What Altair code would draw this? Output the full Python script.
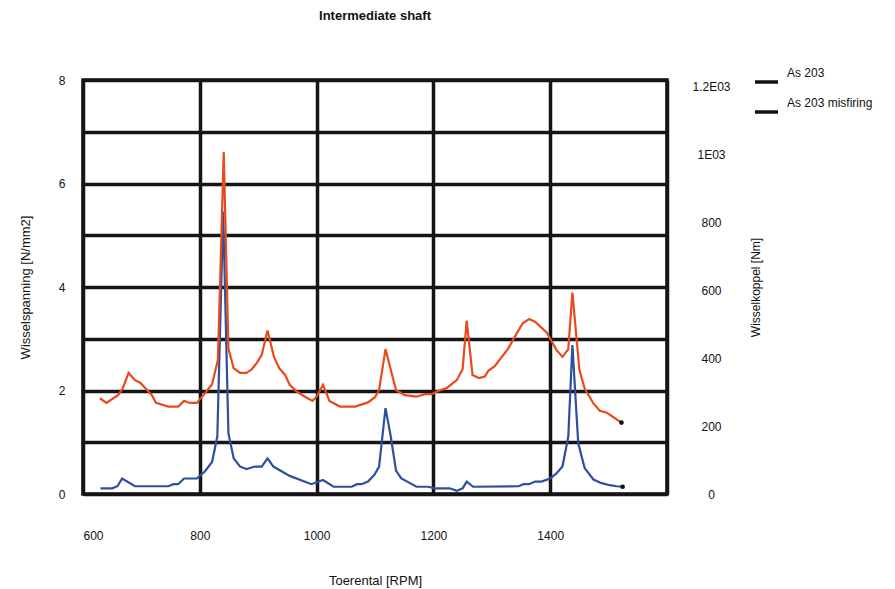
import altair as alt
import pandas as pd

# ---- data ----
orange_rpm = [629, 640, 660, 668, 678, 689, 698, 718, 725, 746, 763, 773, 783, 795, 809, 821, 831, 841,
              849, 858, 869, 880, 889, 898, 906, 916, 927, 936, 946, 954, 966, 980, 993, 1000, 1011,
              1022, 1040, 1066, 1088, 1100, 1107, 1118, 1127, 1136, 1151, 1171, 1185, 1197, 1208,
              1223, 1240, 1250, 1257, 1267, 1278, 1288, 1294, 1305, 1328, 1342, 1353, 1364, 1374,
              1394, 1411, 1421, 1431, 1438, 1450, 1459, 1474, 1485, 1497, 1522]
orange_val = [1.85, 1.76, 1.91, 2.04, 2.34, 2.20, 2.15, 1.91, 1.76, 1.69, 1.69, 1.80, 1.76, 1.76, 1.95,
              2.12, 2.59, 6.61, 2.81, 2.43, 2.34, 2.34, 2.41, 2.54, 2.69, 3.16, 2.65, 2.43, 2.30, 2.11,
              1.98, 1.88, 1.80, 1.88, 2.11, 1.80, 1.69, 1.69, 1.77, 1.87, 2.01, 2.80, 2.40, 2.01, 1.91,
              1.88, 1.93, 1.93, 1.99, 2.05, 2.20, 2.41, 3.35, 2.30, 2.24, 2.27, 2.38, 2.47, 2.81, 3.09,
              3.30, 3.38, 3.33, 3.12, 2.78, 2.65, 2.80, 3.89, 2.40, 2.04, 1.75, 1.61, 1.57, 1.38]

blue_rpm = [630, 650, 659, 667, 689, 746, 755, 763, 773, 795, 809, 821, 830, 840, 849, 858, 869, 880,
            894, 906, 916, 926, 954, 991, 1011, 1029, 1060, 1069, 1077, 1088, 1099, 1107, 1118, 1127,
            1136, 1145, 1160, 1171, 1191, 1203, 1228, 1240, 1250, 1257, 1268, 1346, 1354, 1364, 1374,
            1385, 1400, 1411, 1421, 1431, 1438, 1448, 1459, 1474, 1488, 1502, 1514, 1524]
blue_val = [0.11, 0.11, 0.15, 0.30, 0.15, 0.15, 0.19, 0.19, 0.30, 0.30, 0.44, 0.62, 1.11, 5.46, 1.17,
            0.69, 0.53, 0.48, 0.53, 0.53, 0.69, 0.53, 0.35, 0.19, 0.27, 0.14, 0.14, 0.19, 0.19, 0.24,
            0.37, 0.53, 1.66, 1.11, 0.45, 0.30, 0.21, 0.14, 0.14, 0.11, 0.11, 0.06, 0.11, 0.24, 0.14,
            0.15, 0.19, 0.19, 0.24, 0.24, 0.30, 0.40, 0.53, 1.11, 2.88, 0.98, 0.50, 0.28, 0.21, 0.17,
            0.15, 0.14]

series_names = ["As 203", "As 203 misfiring"]
series_colors = ["#2C4F9E", "#E8491D"]

x_ticks = [600, 800, 1000, 1200, 1400, 1600]
left_ticks = [0, 1, 2, 3, 4, 5, 6, 7, 8]
right_ticks = [0, 200, 400, 600, 800, 1000, 1200]

# ---- tables ----
df = pd.concat([
    pd.DataFrame({"rpm": blue_rpm, "val": blue_val, "series": series_names[0], "order": range(len(blue_rpm))}),
    pd.DataFrame({"rpm": orange_rpm, "val": orange_val, "series": series_names[1], "order": range(len(orange_rpm))}),
])
ends = df.groupby("series").tail(1)
right_df = pd.DataFrame({"torque": right_ticks})
legend_df = pd.DataFrame({"series": series_names, "row": [0, 1]})

FONT = "Liberation Sans"
INK = "#111111"

x_enc = alt.X("rpm:Q",
              scale=alt.Scale(domain=[600, 1600], nice=False, zero=False),
              axis=alt.Axis(values=x_ticks, labelExpr="datum.value == 1600 ? '' : datum.label",
                            format="d", title="Toerental [RPM]", grid=True, ticks=False, domain=False,
                            labelPadding=36, titlePadding=33, labelFontSize=12, titleFontSize=13))
y_enc = alt.Y("val:Q",
              scale=alt.Scale(domain=[0, 8], nice=False),
              axis=alt.Axis(values=left_ticks, labelExpr="datum.value % 2 == 0 ? datum.label : ''",
                            title="Wisselspanning [N/mm2]", grid=True, ticks=False, domain=False,
                            labelPadding=18, titlePadding=26, labelFontSize=12, titleFontSize=13))

lines = alt.Chart(df).mark_line(strokeWidth=2.2).encode(
    x=x_enc,
    y=y_enc,
    order="order:Q",
    color=alt.Color("series:N", scale=alt.Scale(domain=series_names, range=series_colors), legend=None),
)

end_marks = alt.Chart(ends).mark_point(filled=True, color=INK, size=22, opacity=1).encode(
    x=alt.X("rpm:Q"), y=alt.Y("val:Q"))

data_layer = alt.layer(lines, end_marks)

right_axis = alt.Chart(right_df).mark_rule(opacity=0).encode(
    y=alt.Y("torque:Q",
            scale=alt.Scale(domain=[0, 1220], nice=False),
            axis=alt.Axis(orient="right", values=right_ticks,
                          labelExpr="datum.value == 1200 ? '1.2E03' : (datum.value == 1000 ? '1E03' : datum.value + '')",
                          title="Wisselkoppel [Nm]", titleAngle=270, grid=False, ticks=False, domain=False,
                          labelAlign="center", labelPadding=44, titlePadding=32,
                          labelFontSize=12, titleFontSize=12)),
)

# legend (black line symbols + labels, as in the reference)
leg_y = alt.Y("row:Q", scale=alt.Scale(domain=[0, 1], range=[2, 32]), axis=None)
legend_rules = alt.Chart(legend_df).mark_rule(color=INK, strokeWidth=3.5).encode(
    x=alt.value(672), x2=alt.value(695), y=leg_y)
legend_text = alt.Chart(legend_df).mark_text(align="left", baseline="middle", dy=-9,
                                             font=FONT, fontSize=12, color=INK).encode(
    x=alt.value(704), y=leg_y, text="series:N")
legend_layer = alt.layer(legend_rules, legend_text)

chart = alt.layer(data_layer, right_axis, legend_layer).resolve_scale(y="independent").properties(
    width=584, height=414,
    autosize=alt.AutoSizeParams(type="none"),
    padding={"left": 75, "top": 72, "right": 220, "bottom": 100},
    title=alt.TitleParams("Intermediate shaft", fontSize=13, fontWeight="bold", offset=44,
                          anchor="middle", color=INK, font=FONT),
    background="white",
).configure_view(
    stroke="#151515", strokeWidth=3.5
).configure_axis(
    gridColor="#151515", gridWidth=3.5, gridOpacity=1,
    labelFont=FONT, titleFont=FONT, labelColor=INK, titleColor=INK,
    titleFontWeight="normal",
)

chart.save("out.html", embed_options={"renderer": "svg", "actions": False})
